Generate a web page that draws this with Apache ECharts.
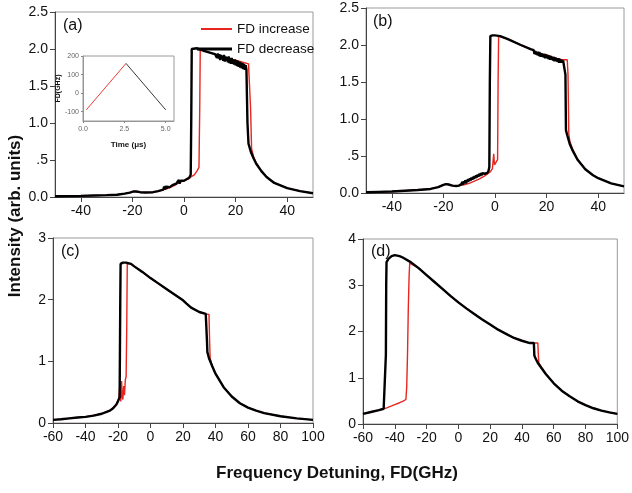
<!DOCTYPE html>
<html><head><meta charset="utf-8">
<script src="https://cdn.jsdelivr.net/npm/echarts@6/dist/echarts.min.js"></script>
<style>html,body{margin:0;padding:0;background:#fff}#c{width:632px;height:493px}</style>
</head><body><div id="c"></div>
<script>
// ---- data (x = frequency detuning GHz, y = intensity arb. units) ----
const aIncrease = [[-50,0.01],[-40,0.015],[-30,0.025],[-26,0.03],[-23,0.045],[-21,0.06],[-19.5,0.075],[-18.5,0.075],[-17,0.065],[-15,0.06],[-12,0.065],[-10,0.08],[-8,0.1],[-6,0.12],[-4,0.15],[-2,0.19],[0,0.22],[2,0.25],[3,0.28],[4,0.3],[5,0.35],[5.8,0.4],[6.1,1.2],[6.3,2.0],[7,1.99],[10,1.95],[15,1.89],[20,1.85],[22,1.83],[24,1.81],[25,1.8],[25.5,1.79],[25.8,1.2],[26.2,0.65],[27,0.54],[28,0.46],[30,0.35],[32,0.27],[35,0.19],[40,0.12],[45,0.08],[50,0.05]];
const aDecrease = [[-50,0.01],[-45,0.012],[-40,0.015],[-35,0.02],[-30,0.025],[-26,0.03],[-23,0.045],[-21,0.06],[-19.5,0.075],[-18.5,0.075],[-17,0.065],[-15,0.06],[-12,0.065],[-10,0.08],[-8,0.1],[-7.7,0.14],[-7.4,0.1],[-7.1,0.15],[-6.8,0.11],[-6.5,0.14],[-6.2,0.12],[-5.9,0.16],[-5.6,0.13],[-5,0.15],[-4.5,0.16],[-4,0.17],[-3,0.18],[-2.3,0.2],[-2,0.23],[-1.7,0.18],[-1.4,0.22],[-1,0.21],[0,0.22],[1,0.24],[2,0.26],[2.6,0.3],[2.8,1.0],[3.0,2.0],[3.5,2.02],[5,2.01],[8,1.97],[10,1.95],[12,1.93],[12.5,1.93],[12.8,1.88],[13.1,1.94],[13.4,1.87],[13.7,1.93],[14.0,1.85],[14.3,1.92],[14.6,1.86],[14.9,1.91],[15.2,1.84],[15.5,1.92],[15.8,1.83],[16.1,1.9],[16.4,1.84],[16.7,1.89],[17.0,1.82],[17.3,1.9],[17.6,1.81],[17.9,1.88],[18.2,1.8],[18.5,1.88],[18.8,1.8],[19.1,1.86],[19.4,1.79],[19.7,1.86],[20.0,1.78],[20.3,1.85],[20.6,1.77],[20.9,1.84],[21.2,1.76],[21.5,1.83],[21.8,1.75],[22.1,1.82],[22.4,1.74],[22.7,1.81],[23.0,1.73],[23.3,1.8],[23.6,1.72],[23.9,1.78],[24.2,1.72],[24.6,1.0],[25,0.72],[26,0.6],[27,0.52],[28,0.45],[30,0.35],[32,0.27],[35,0.19],[40,0.12],[45,0.08],[50,0.05]];

const bIncrease = [[-50,0.01],[-40,0.02],[-30,0.04],[-25,0.055],[-22,0.08],[-20,0.11],[-19,0.12],[-18,0.115],[-16.5,0.1],[-15,0.095],[-14,0.1],[-12,0.11],[-10,0.13],[-8,0.16],[-6,0.19],[-4,0.23],[-2,0.28],[-1,0.33],[-0.5,0.53],[-0.2,0.38],[0.3,0.4],[1,0.45],[1.2,1.5],[1.4,2.12],[2,2.12],[5,2.08],[10,2.0],[15,1.93],[16,1.9],[18,1.88],[20,1.87],[22,1.84],[24,1.82],[26,1.8],[28,1.8],[28.3,1.6],[28.6,0.8],[29,0.7],[30,0.6],[32,0.46],[35,0.32],[38,0.24],[40,0.2],[45,0.13],[50,0.09]];
const bDecrease = [[-50,0.01],[-45,0.015],[-40,0.02],[-35,0.03],[-30,0.04],[-25,0.055],[-22,0.08],[-20,0.11],[-19,0.12],[-18,0.115],[-16.5,0.1],[-15,0.095],[-14,0.1],[-13,0.12],[-12.7,0.15],[-12.4,0.11],[-12.1,0.16],[-11.8,0.13],[-11.5,0.17],[-11.2,0.13],[-10.9,0.18],[-10.6,0.15],[-10.3,0.19],[-10,0.16],[-9.7,0.2],[-9.4,0.17],[-9.1,0.21],[-8.8,0.18],[-8.5,0.22],[-8.2,0.19],[-7.9,0.23],[-7.6,0.2],[-7.3,0.24],[-7,0.21],[-6.7,0.25],[-6.4,0.22],[-6.1,0.26],[-5.8,0.23],[-5.5,0.27],[-5.2,0.24],[-4.9,0.27],[-4.6,0.25],[-4.3,0.28],[-4,0.26],[-3.5,0.28],[-3,0.27],[-2.5,0.3],[-2.2,0.35],[-2.0,1.5],[-1.8,2.12],[-1,2.13],[0,2.13],[2,2.12],[5,2.08],[10,2.0],[14,1.94],[15,1.93],[15.3,1.88],[15.6,1.92],[15.9,1.87],[16.2,1.91],[16.5,1.86],[16.8,1.91],[17.1,1.85],[17.4,1.9],[17.7,1.84],[18,1.89],[18.3,1.84],[18.6,1.88],[18.9,1.83],[19.2,1.88],[19.5,1.82],[19.8,1.87],[20.1,1.82],[20.4,1.86],[20.7,1.81],[21,1.86],[21.3,1.8],[21.6,1.85],[21.9,1.8],[22.2,1.84],[22.5,1.79],[22.8,1.84],[23.1,1.78],[23.4,1.83],[23.7,1.78],[24,1.82],[24.3,1.77],[24.6,1.82],[24.9,1.76],[25.2,1.81],[25.5,1.76],[25.8,1.8],[26.1,1.76],[26.4,1.79],[26.7,1.77],[27,1.78],[27.3,1.6],[27.5,0.85],[28,0.78],[29,0.66],[30,0.58],[32,0.45],[35,0.32],[38,0.24],[40,0.2],[45,0.13],[50,0.09]];

const cIncrease = [[-60,0.05],[-50,0.075],[-40,0.1],[-30,0.15],[-25,0.2],[-21,0.3],[-19.5,0.4],[-19,0.38],[-18.7,0.65],[-18.3,0.35],[-17.8,0.68],[-17.4,0.42],[-17,0.38],[-16.5,0.6],[-16,0.45],[-15.5,0.7],[-15,0.75],[-14.6,1.6],[-14.3,2.58],[-14,2.59],[-12,2.58],[-10,2.54],[-5,2.45],[0,2.35],[5,2.26],[10,2.17],[15,2.08],[20,1.99],[22,1.94],[25,1.87],[30,1.8],[34,1.77],[36,1.76],[36.4,1.3],[36.7,1.05],[38,0.92],[40,0.8],[45,0.58],[50,0.43],[55,0.32],[60,0.25],[65,0.2],[70,0.16],[80,0.11],[90,0.075],[100,0.05]];
const cDecrease = [[-60,0.05],[-55,0.06],[-50,0.075],[-45,0.09],[-40,0.1],[-35,0.12],[-30,0.15],[-27,0.18],[-25,0.2],[-23,0.24],[-21,0.3],[-20,0.35],[-19,0.42],[-18.8,1.2],[-18.6,2.0],[-18.4,2.58],[-17,2.6],[-15,2.6],[-12,2.58],[-10,2.54],[-5,2.45],[0,2.35],[5,2.26],[10,2.17],[15,2.08],[20,1.99],[22,1.94],[25,1.87],[30,1.8],[34,1.77],[34.6,1.76],[34.8,1.3],[35,1.15],[36,1.05],[38,0.92],[40,0.8],[45,0.58],[50,0.43],[55,0.32],[60,0.25],[65,0.2],[70,0.16],[80,0.11],[90,0.075],[100,0.05]];

const dIncrease = [[-60,0.22],[-55,0.26],[-50,0.3],[-47,0.33],[-45,0.35],[-42,0.39],[-40,0.42],[-37,0.46],[-35,0.49],[-33,0.53],[-32.5,0.8],[-32,1.5],[-31.5,2.5],[-31,3.2],[-30.6,3.48],[-30,3.5],[-25,3.37],[-20,3.22],[-15,3.07],[-10,2.92],[-5,2.77],[0,2.63],[5,2.5],[10,2.38],[15,2.26],[20,2.15],[25,2.04],[30,1.95],[35,1.86],[40,1.8],[45,1.75],[50,1.75],[50.3,1.5],[50.6,1.32],[55,1.08],[60,0.88],[65,0.72],[70,0.6],[75,0.49],[80,0.41],[85,0.34],[90,0.29],[95,0.25],[100,0.22]];
const dDecrease = [[-60,0.22],[-55,0.26],[-50,0.3],[-47,0.33],[-45.8,0.36],[-45.6,1.5],[-45.4,3.0],[-45.2,3.5],[-44,3.57],[-42,3.63],[-40,3.65],[-37,3.63],[-35,3.6],[-30,3.5],[-25,3.37],[-20,3.22],[-15,3.07],[-10,2.92],[-5,2.77],[0,2.63],[5,2.5],[10,2.38],[15,2.26],[20,2.15],[25,2.04],[30,1.95],[35,1.86],[40,1.8],[45,1.75],[47.5,1.75],[47.8,1.48],[48.5,1.42],[50,1.32],[55,1.08],[60,0.88],[65,0.72],[70,0.6],[75,0.49],[80,0.41],[85,0.34],[90,0.29],[95,0.25],[100,0.22]];

// inset: FD(GHz) vs time (µs)
const insetIncrease = [[0.2,-90],[2.6,160]];
const insetDecrease = [[2.6,160],[5.0,-90]];

const abTicks = [-40,-20,0,20,40];
const panelLabels = ['(a)','(b)','(c)','(d)'];
const seriesNames = ['FD increase','FD decrease'];
const xTitle = 'Frequency Detuning, FD(GHz)';
const yTitle = 'Intensity (arb. units)';

// ---- chart ----
const FONT = '"Liberation Sans", Arial, sans-serif';
const RED = '#e8251f', BLACK = '#000';
const grids = [
  {left:55, top:12, width:258, height:185},
  {left:366, top:8, width:258, height:185},
  {left:53, top:238, width:260, height:185},
  {left:363, top:239, width:259, height:185},
  {left:83, top:56, width:91, height:65}
].map(g => Object.assign({show:true, borderColor:'#9a9a9a', borderWidth:1, backgroundColor:'transparent', containLabel:false}, g));

function xAxis(i, min, max, custom) {
  const ax = {type:'value', gridIndex:i, min, max, splitLine:{show:false},
    axisLine:{onZero:false, lineStyle:{color:'#444', width:1}},
    axisTick:{inside:false, length:5, lineStyle:{color:'#444'}},
    axisLabel:{color:'#111', fontSize:14, fontFamily:FONT, margin:7}};
  if (custom) { ax.axisLabel.customValues = custom; ax.axisTick.customValues = custom; }
  else ax.interval = 20;
  return ax;
}
function yAxis(i, max, interval, fmt) {
  return {type:'value', gridIndex:i, min:0, max, interval, splitLine:{show:false},
    axisLine:{onZero:false, lineStyle:{color:'#444', width:1}},
    axisTick:{inside:false, length:5, lineStyle:{color:'#444'}},
    axisLabel:{color:'#111', fontSize:14, fontFamily:FONT, margin:7, formatter: fmt}};
}
const fmtAB = v => v === 0.5 ? '.5' : v.toFixed(1);

const xAxes = [xAxis(0,-50,50,abTicks), xAxis(1,-50,50,abTicks), xAxis(2,-60,100), xAxis(3,-60,100),
  {type:'value', gridIndex:4, min:0, max:5.5, interval:2.5, splitLine:{show:false},
   axisLine:{onZero:false, lineStyle:{color:'#888', width:0.8}}, axisTick:{length:2, lineStyle:{color:'#888'}},
   axisLabel:{color:'#666', fontSize:7, fontFamily:FONT, margin:5, showMaxLabel:false, formatter:v=>v.toFixed(1)},
   name:'Time (\u03bcs)', nameLocation:'middle', nameGap:20, nameTextStyle:{fontSize:8, fontWeight:'bold', color:'#111', fontFamily:FONT}}];
const yAxes = [yAxis(0,2.5,0.5,fmtAB), yAxis(1,2.5,0.5,fmtAB), yAxis(2,3,1), yAxis(3,4,1),
  {type:'value', gridIndex:4, min:-150, max:200, splitLine:{show:false},
   axisLabel:{color:'#666', fontSize:7, fontFamily:FONT, margin:4, customValues:[-100,0,100,200]},
   axisTick:{length:2, customValues:[-100,0,100,200], lineStyle:{color:'#888'}},
   axisLine:{onZero:false, lineStyle:{color:'#888', width:0.8}},
   name:'FD(GHz)', nameLocation:'middle', nameGap:18, nameRotate:90, nameTextStyle:{fontSize:7, fontWeight:'bold', color:'#111', fontFamily:FONT}}];

const panels = [[aIncrease,aDecrease],[bIncrease,bDecrease],[cIncrease,cDecrease],[dIncrease,dDecrease]];
const series = [];
panels.forEach((p, i) => {
  series.push({name:seriesNames[0], type:'line', xAxisIndex:i, yAxisIndex:i, data:p[0], showSymbol:false, symbol:'none', z:2,
    lineStyle:{color:RED, width:1.4}, itemStyle:{color:RED}});
  series.push({name:seriesNames[1], type:'line', xAxisIndex:i, yAxisIndex:i, data:p[1], showSymbol:false, symbol:'none', z:3,
    lineStyle:{color:BLACK, width:2.4}, itemStyle:{color:BLACK}});
});
series.push({name:'inset increase', type:'line', xAxisIndex:4, yAxisIndex:4, data:insetIncrease, showSymbol:false, symbol:'none', lineStyle:{color:RED, width:0.9}});
series.push({name:'inset decrease', type:'line', xAxisIndex:4, yAxisIndex:4, data:insetDecrease, showSymbol:false, symbol:'none', lineStyle:{color:'#222', width:0.9}});

const labelPos = [[63,27],[373,23],[61,253],[371,253]];
const graphic = panelLabels.map((t, i) => ({type:'text', left:labelPos[i][0], top:labelPos[i][1]-9, z:10,
  style:{text:t, font:'16px ' + FONT, fill:'#111'}}));
graphic.push({type:'text', x:15, y:216, rotation:Math.PI/2, z:10,
  style:{text:yTitle, font:'bold 17px ' + FONT, fill:'#111', align:'center', verticalAlign:'middle'}});
graphic.push({type:'text', x:337, y:473, z:10,
  style:{text:xTitle, font:'bold 17px ' + FONT, fill:'#111', align:'center', verticalAlign:'middle'}});

const chart = echarts.init(document.getElementById('c'), null, {renderer:'canvas'});
chart.setOption({
  animation:false,
  backgroundColor:'#fff',
  textStyle:{fontFamily:FONT},
  grid:grids, xAxis:xAxes, yAxis:yAxes, series, graphic,
  legend:[
    {data:[{name:'FD increase', icon:'rect'}], left:196, top:17, itemWidth:31, itemHeight:2, itemGap:6, selectedMode:false,
     textStyle:{fontSize:13.5, color:'#111', fontFamily:FONT}},
    {data:[{name:'FD decrease', icon:'rect'}], left:192, top:37, itemWidth:35, itemHeight:3, itemGap:6, selectedMode:false,
     textStyle:{fontSize:13.5, color:'#111', fontFamily:FONT}}
  ]
});
</script></body></html>
